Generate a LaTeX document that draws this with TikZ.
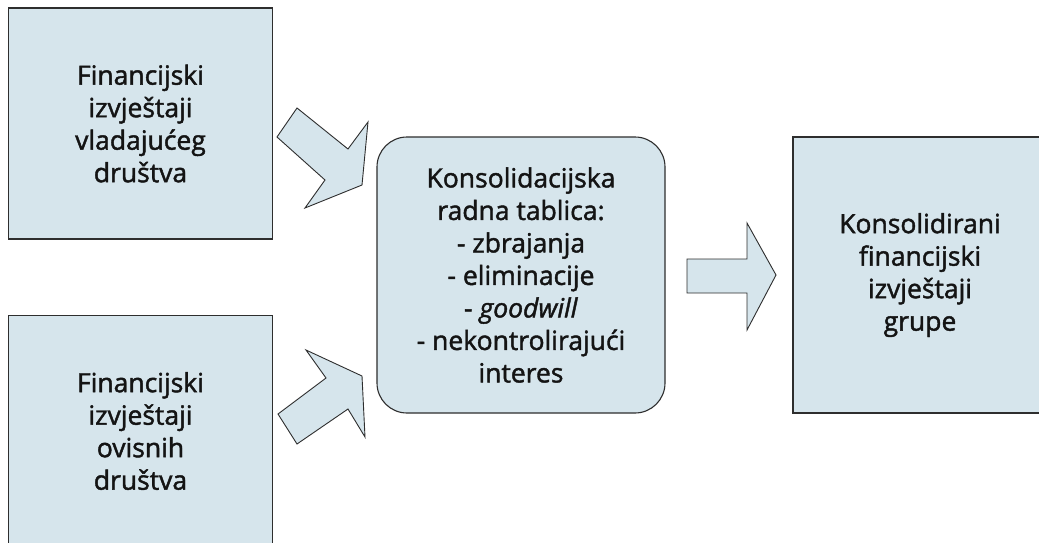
\documentclass[tikz,border=0pt]{standalone}
\usepackage{fontspec}
\setmainfont{Open Sans}[FakeBold=1.6]
\definecolor{boxfill}{HTML}{D6E5EC}
\definecolor{edge}{HTML}{2E2E2E}
\definecolor{ink}{HTML}{141414}
\begin{document}
\begin{tikzpicture}[x=1pt,y=-1pt,
  box/.style={draw=edge, line width=1.1pt, fill=boxfill, text=ink,
    align=center, inner sep=0pt,
    font=\fontsize{26.5}{32.5}\selectfont},
  blockarrow/.style={draw=edge, line width=0.9pt, fill=boxfill, line join=miter}]
\useasboundingbox (0,0) rectangle (1039,542);
\clip (0,0) rectangle (1039,542);
\fill[white] (0,0) rectangle (1039,542);

\node[box, minimum width=264pt, minimum height=231pt] (parent) at (140.5,123.5)
  {Financijski\\izvještaji\\vladajućeg\\društva};
\node[box, minimum width=264pt, minimum height=231pt] (sub) at (140.5,431)
  {Financijski\\izvještaji\\ovisnih\\društva};
\node[box, rounded corners=30pt, minimum width=288pt, minimum height=276pt] (work) at (521,275)
  {Konsolidacijska\\radna tablica:\\- zbrajanja\\- eliminacije\\- \textit{goodwill}\\- nekontrolirajući\\interes};
\node[box, minimum width=254pt, minimum height=276pt] (group) at (920,275)
  {Konsolidirani\\financijski\\izvještaji\\grupe};

% block arrows
\draw[blockarrow] (277,137) -- (297,108) -- (348,149) -- (368,122) -- (362,185)
  -- (305,208) -- (325,180) -- cycle;
\draw[blockarrow] (278,414) -- (326,378) -- (306,350) -- (362,376) -- (365,437)
  -- (348,409) -- (297,444) -- cycle;
\draw[blockarrow] (687,259) -- (747,259) -- (747,223) -- (776,275) -- (747,330)
  -- (747,293) -- (687,293) -- cycle;
\end{tikzpicture}
\end{document}
